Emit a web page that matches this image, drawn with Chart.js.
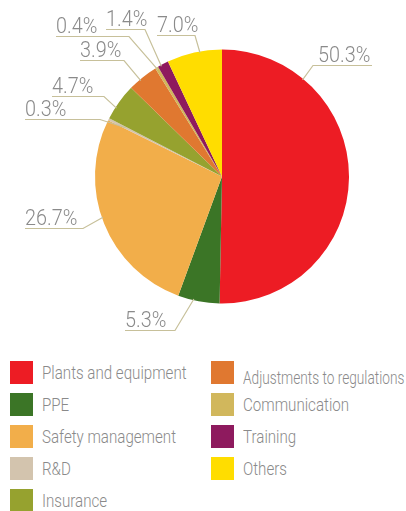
<!DOCTYPE html>
<html>
<head>
<meta charset="utf-8">
<script src="https://cdn.jsdelivr.net/npm/chart.js@4"></script>
<style>
  html, body { margin: 0; padding: 0; background: #fff; }
  #wrap { position: relative; width: 406px; height: 511px; overflow: hidden; }
  #pie { position: absolute; left: 0; top: 0; }
  .item { position: absolute; height: 23px; font: 300 18px "Roboto", sans-serif; color: #8a8a8a; white-space: nowrap; }
  .item span.sw { position: absolute; left: 0; top: 0; width: 23px; height: 23px; }
  .item span.tx { position: absolute; left: 32px; top: 0; line-height: 23px; transform: scaleX(0.84); transform-origin: 0 0; }
</style>
</head>
<body>
<div id="wrap">
  <canvas id="pie" width="406" height="345"></canvas>
  <div id="legend"></div>
</div>
<script>
// Categories and shares (%), clockwise from 12 o'clock
const categories = ['Plants and equipment', 'PPE', 'Safety management', 'R&D', 'Insurance',
  'Adjustments to regulations', 'Communication', 'Training', 'Others'];
const shares = [50.3, 5.3, 26.7, 0.3, 4.7, 3.9, 0.4, 1.4, 7.0];
const colors = ['#ed1c24', '#3b7526', '#f2ae4a', '#d3c4ae', '#96a22f',
  '#e07830', '#d1b75c', '#8e1a5e', '#ffdd00'];

// where each percentage label sits: text left, baseline, end of underline, point along slice
const labelLayout = [
  { x: 318, y: 62, lineTo: 372, frac: 0.22, r: 0.99 },
  { x: 125, y: 327, lineTo: 175, frac: 0.62, r: 0.99 },
  { x: 25, y: 225, lineTo: 83, frac: 0.53, r: 0.99 },
  { x: 25, y: 116, lineTo: 100, frac: 0.5, r: 0.85 },
  { x: 52, y: 93, lineTo: 104, frac: 0.33, r: 0.99 },
  { x: 80, y: 57, lineTo: 124, frac: 0.39, r: 0.99 },
  { x: 56, y: 33, lineTo: 129, frac: 0.5, r: 0.98 },
  { x: 106, y: 26, lineTo: 145, frac: 0.28, r: 0.99 },
  { x: 157, y: 32, lineTo: 195, frac: 0.6, r: 0.99 }
];

const leaderLabels = {
  id: 'leaderLabels',
  afterDatasetsDraw(chart) {
    const ctx = chart.ctx;
    const arcs = chart.getDatasetMeta(0).data;
    ctx.save();
    ctx.font = '300 22px "Roboto", sans-serif';
    ctx.textBaseline = 'alphabetic';
    arcs.forEach((arc, i) => {
      const L = labelLayout[i];
      const p = arc.getProps(['x', 'y', 'startAngle', 'endAngle', 'outerRadius'], true);
      const a = p.startAngle + (p.endAngle - p.startAngle) * L.frac;
      const ax = p.x + Math.cos(a) * p.outerRadius * L.r;
      const ay = p.y + Math.sin(a) * p.outerRadius * L.r;
      const uy = L.y + 3.5;
      const right = ax > p.x;
      ctx.strokeStyle = '#c7c09a';
      ctx.lineWidth = 1.2;
      ctx.beginPath();
      if (right) {
        ctx.moveTo(L.lineTo, uy);
        ctx.lineTo(L.x - 5, uy);
      } else {
        ctx.moveTo(L.x, uy);
        ctx.lineTo(L.lineTo, uy);
      }
      ctx.lineTo(ax, ay);
      ctx.stroke();
      ctx.fillStyle = '#8a8a8a';
      ctx.save();
      ctx.translate(L.x, L.y);
      ctx.scale(0.9, 1);
      ctx.fillText(shares[i].toFixed(1) + '%', 0, 0);
      ctx.restore();
    });
    ctx.restore();
  }
};

new Chart(document.getElementById('pie'), {
  type: 'pie',
  data: {
    labels: categories,
    datasets: [{
      data: shares,
      backgroundColor: colors,
      borderWidth: 0
    }]
  },
  options: {
    responsive: false,
    animation: false,
    layout: { padding: { left: 95, right: 57, top: 49, bottom: 41 } },
    plugins: {
      legend: { display: false },
      tooltip: { enabled: false }
    }
  },
  plugins: [leaderLabels]
});

// two column legend, filled column first
const legendEl = document.getElementById('legend');
categories.forEach((name, i) => {
  const col = i < 5 ? 0 : 1;
  const row = i < 5 ? i : i - 5;
  const div = document.createElement('div');
  div.className = 'item';
  div.style.left = (col ? 211 : 10) + 'px';
  div.style.top = (361 + row * 32) + 'px';
  div.innerHTML = '<span class="sw" style="background:' + colors[i] + '"></span><span class="tx"></span>';
  const tx = div.querySelector('.tx');
  tx.textContent = name;
  if (i === 5) tx.style.top = '5px';
  legendEl.appendChild(div);
  // squeeze long names so they stay inside the page
  const room = 406 - (col ? 211 : 10) - 32 - 2;
  if (tx.offsetWidth * 0.84 > room) tx.style.transform = 'scaleX(' + (room / tx.offsetWidth) + ')';
});
</script>
</body>
</html>
